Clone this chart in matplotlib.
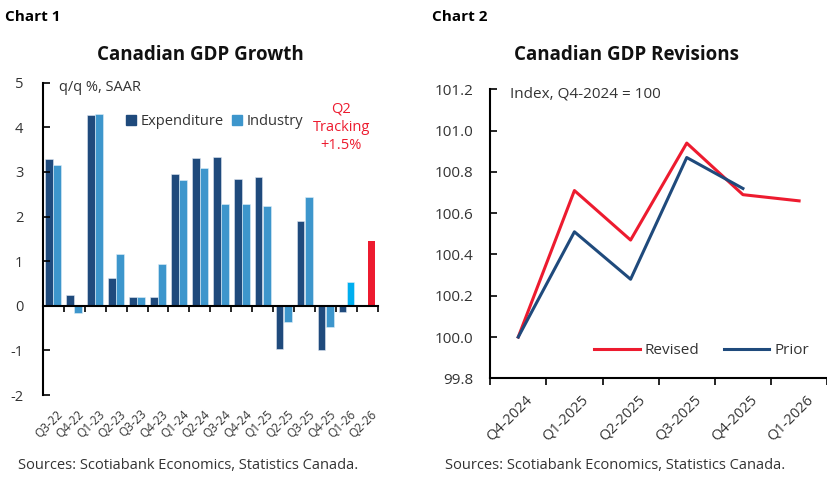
import matplotlib
matplotlib.use('Agg')
import matplotlib.pyplot as plt
from matplotlib.patches import Patch
import matplotlib.transforms as mtransforms

# chart 1 data
quarters = ['Q3-22', 'Q4-22', 'Q1-23', 'Q2-23', 'Q3-23', 'Q4-23', 'Q1-24', 'Q2-24',
            'Q3-24', 'Q4-24', 'Q1-25', 'Q2-25', 'Q3-25', 'Q4-25', 'Q1-26', 'Q2-26']
expenditure = [3.28, 0.25, 4.27, 0.63, 0.20, 0.20, 2.95, 3.30,
               3.33, 2.84, 2.89, -0.97, 1.91, -0.98, -0.13, None]
industry = [3.15, -0.15, 4.29, 1.17, 0.20, 0.93, 2.82, 3.09,
            2.27, 2.27, 2.24, -0.36, 2.44, -0.47, 0.53, None]
tracking_q = 'Q2-26'
tracking_val = 1.45

# chart 2 data
rev_quarters = ['Q4-2024', 'Q1-2025', 'Q2-2025', 'Q3-2025', 'Q4-2025', 'Q1-2026']
revised = [100.0, 100.71, 100.47, 100.94, 100.69, 100.66]
prior = [100.0, 100.51, 100.28, 100.87, 100.72]

NAVY = '#1f4a7c'
LIGHT = '#3d96cc'
BRIGHT = '#00aeef'
RED = '#ed1b2f'
TXT = '#333333'

plt.rcParams['font.family'] = ['Open Sans', 'DejaVu Sans']

fig = plt.figure(figsize=(8.28, 4.83), dpi=100)

# ---------------- Chart 1 ----------------
ax1 = fig.add_axes([0.0516, 0.182, 0.405, 0.647])
w = 0.37
for i, q in enumerate(quarters):
    if expenditure[i] is not None:
        ax1.bar(i - 0.2, expenditure[i], width=w, color=NAVY, edgecolor='#dfe8f2', linewidth=0.4)
    if industry[i] is not None:
        c = BRIGHT if q == 'Q1-26' else LIGHT
        ax1.bar(i + 0.19, industry[i], width=w, color=c, edgecolor='#dfeef8', linewidth=0.4)
ti = quarters.index(tracking_q)
ax1.bar(ti + 0.19, tracking_val, width=w, color=RED, linewidth=0)

ax1.set_xlim(-0.5, len(quarters) - 0.5)
ax1.set_ylim(-2, 5)
ax1.set_yticks(range(-2, 6))
ax1.set_yticklabels([str(v) for v in range(-2, 6)])
ax1.spines['top'].set_visible(False)
ax1.spines['right'].set_visible(False)
ax1.spines['bottom'].set_position(('data', 0))
ax1.spines['left'].set_linewidth(1.5)
ax1.spines['bottom'].set_linewidth(1.5)
ax1.set_xticks([i + 0.5 for i in range(-1, len(quarters))])
ax1.set_xticklabels([])
ax1.tick_params(axis='x', direction='out', length=4, width=1.2)
ax1.tick_params(axis='y', direction='in', length=5, width=1.2, labelsize=10.5,
                labelcolor=TXT, pad=14)
trans1 = mtransforms.blended_transform_factory(ax1.transData, ax1.transAxes)
for i, q in enumerate(quarters):
    ax1.text(i + 0.15, -0.04, q, transform=trans1, rotation=45, ha='right', va='top',
             fontsize=8.5, color=TXT, rotation_mode='anchor')

ax1.text(0.05, 0.985, 'q/q %, SAAR', transform=ax1.transAxes, fontsize=10.5,
         color=TXT, va='center')
handles = [Patch(color=NAVY), Patch(color=LIGHT)]
ax1.legend(handles, ['Expenditure', 'Industry'], ncol=2, frameon=False,
           loc='center left', bbox_to_anchor=(0.23, 0.875), handlelength=0.7,
           handleheight=0.7, handletextpad=0.3, columnspacing=0.6, fontsize=10.5,
           labelcolor=TXT, borderaxespad=0)
ax1.text(13.75, 4.0, 'Q2\nTracking\n+1.5%', color=RED, ha='center', va='center',
         fontsize=10.5, linespacing=1.3)

# ---------------- Chart 2 ----------------
ax2 = fig.add_axes([0.592, 0.2168, 0.407, 0.598])
ax2.plot(range(len(revised)), revised, color=RED, linewidth=2.2, label='Revised')
ax2.plot(range(len(prior)), prior, color=NAVY, linewidth=2.2, label='Prior')
ax2.set_xlim(-0.5, len(rev_quarters) - 0.5)
ax2.set_ylim(99.8, 101.2)
ax2.set_yticks([99.8, 100.0, 100.2, 100.4, 100.6, 100.8, 101.0, 101.2])
ax2.set_yticklabels(['99.8', '100.0', '100.2', '100.4', '100.6', '100.8', '101.0', '101.2'])
ax2.spines['top'].set_visible(False)
ax2.spines['right'].set_visible(False)
ax2.spines['left'].set_linewidth(1.5)
ax2.spines['bottom'].set_linewidth(1.5)
ax2.set_xticks([i - 0.5 for i in range(len(rev_quarters) + 1)])
ax2.set_xticklabels([])
ax2.tick_params(axis='x', direction='out', length=5, width=1.2)
ax2.tick_params(axis='y', direction='in', length=5, width=1.2, labelsize=11,
                labelcolor=TXT, pad=12)
trans2 = mtransforms.blended_transform_factory(ax2.transData, ax2.transAxes)
for i, q in enumerate(rev_quarters):
    ax2.text(i + 0.12, -0.05, q, transform=trans2, rotation=45, ha='right', va='top',
             fontsize=10.5, color=TXT, rotation_mode='anchor')
ax2.text(0.06, 0.985, 'Index, Q4-2024 = 100', transform=ax2.transAxes, fontsize=11,
         color=TXT, va='center')
ax2.legend(loc='center left', bbox_to_anchor=(0.29, 0.095), ncol=2, frameon=False,
           handlelength=3.0, handletextpad=0.3, columnspacing=1.6, fontsize=11,
           labelcolor=TXT, borderaxespad=0)

# headers, titles and sources
fig.text(0.006, 0.965, 'Chart 1', fontsize=11, fontweight='bold', va='center')
fig.text(0.522, 0.965, 'Chart 2', fontsize=11, fontweight='bold', va='center')
fig.text(0.2415, 0.886, 'Canadian GDP Growth', fontsize=13.5, fontweight='bold',
         ha='center', va='center', color='#111111')
fig.text(0.757, 0.886, 'Canadian GDP Revisions', fontsize=13.5, fontweight='bold',
         ha='center', va='center', color='#111111')
fig.text(0.022, 0.037, 'Sources: Scotiabank Economics, Statistics Canada.', fontsize=10.5,
         color=TXT, va='center')
fig.text(0.538, 0.037, 'Sources: Scotiabank Economics, Statistics Canada.', fontsize=10.5,
         color=TXT, va='center')

fig.savefig('out.png', dpi=100)
